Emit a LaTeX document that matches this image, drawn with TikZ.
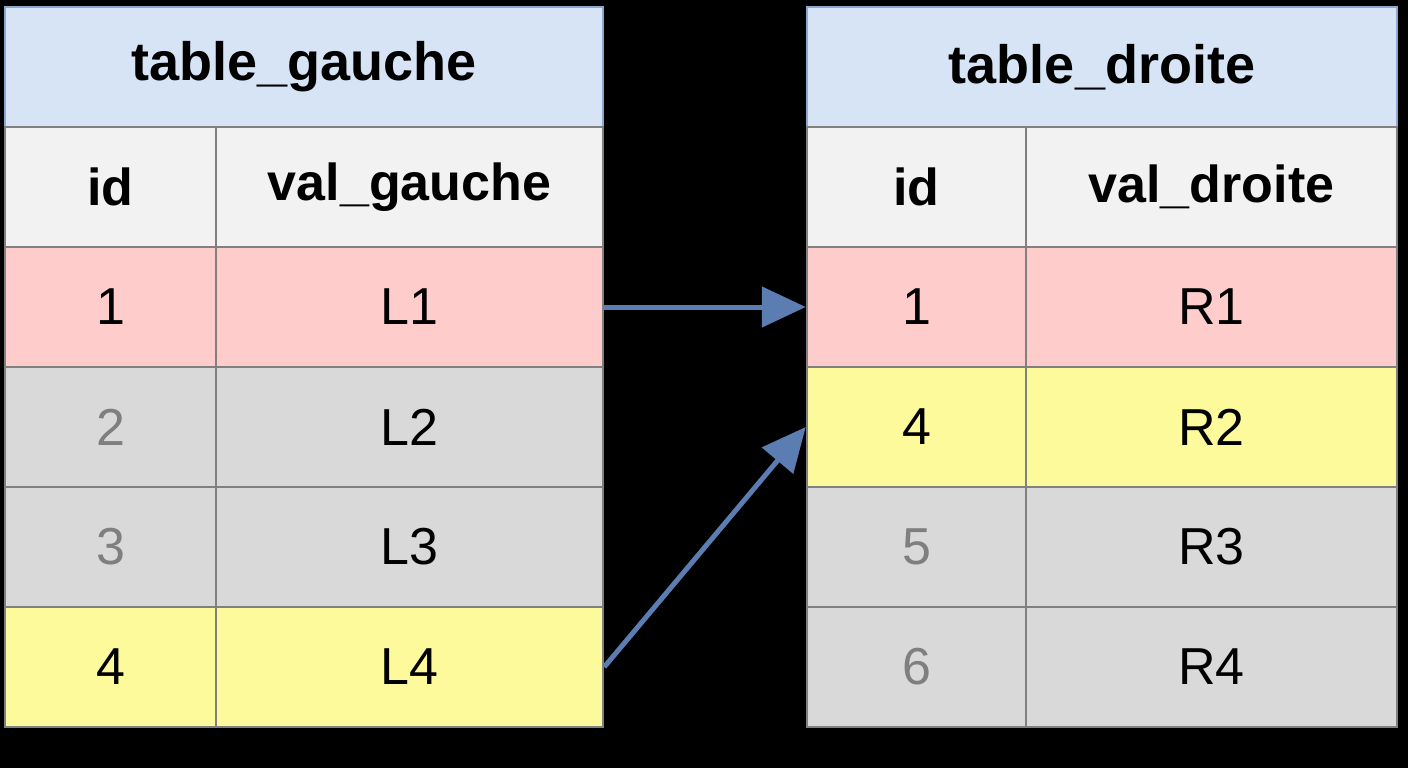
\documentclass[tikz,border=0pt]{standalone}
\usepackage{fontspec}
\setmainfont{Liberation Sans}
\usetikzlibrary{arrows.meta}
\definecolor{hdr}{HTML}{D6E4F5}
\definecolor{hdrb}{HTML}{8CA8CC}
\definecolor{colh}{HTML}{F2F2F2}
\definecolor{rr}{HTML}{FFCCCC}
\definecolor{gg}{HTML}{D9D9D9}
\definecolor{yy}{HTML}{FDFA9B}
\definecolor{bord}{HTML}{808080}
\definecolor{arr}{HTML}{5B7DB1}
\definecolor{gtxt}{HTML}{7F7F7F}
\tikzset{
 cell/.style={draw=bord,line width=2.5pt,inner sep=0pt,minimum height=120pt,font=\fontsize{52}{60}\selectfont},
 title/.style={cell,fill=hdr,draw=hdrb,font=\fontsize{54}{60}\selectfont\bfseries},
 ch/.style={cell,fill=colh,font=\fontsize{52}{60}\selectfont\bfseries},
 conn/.style={draw=arr,line width=5pt,-{Triangle[length=44pt,width=40pt]}}
}
\begin{document}
\begin{tikzpicture}[x=1pt,y=-1pt]
\fill[black] (0,0) rectangle (1408,768);
\useasboundingbox (0,0) rectangle (1408,768);
% left
\node[title,minimum width=598pt] (lt) at (304,67) {table\_gauche};
\node[ch,minimum width=211pt] (lh1) at (110.5,187) {id};
\node[ch,minimum width=387pt] (lh2) at (409.5,187) {val\_gauche};
\node[cell,fill=rr,minimum width=211pt] (l1a) at (110.5,307) {1};
\node[cell,fill=rr,minimum width=387pt] (l1b) at (409.5,307) {L1};
\node[cell,fill=gg,minimum width=211pt,text=gtxt] (l2a) at (110.5,427) {2};
\node[cell,fill=gg,minimum width=387pt] (l2b) at (409.5,427) {L2};
\node[cell,fill=gg,minimum width=211pt,text=gtxt] (l3a) at (110.5,547) {3};
\node[cell,fill=gg,minimum width=387pt] (l3b) at (409.5,547) {L3};
\node[cell,fill=yy,minimum width=211pt] (l4a) at (110.5,667) {4};
\node[cell,fill=yy,minimum width=387pt] (l4b) at (409.5,667) {L4};
% right
\node[title,minimum width=590pt] (rt) at (1102,67) {table\_droite};
\node[ch,minimum width=219pt] (rh1) at (916.5,187) {id};
\node[ch,minimum width=371pt] (rh2) at (1211.5,187) {val\_droite};
\node[cell,fill=rr,minimum width=219pt] (r1a) at (916.5,307) {1};
\node[cell,fill=rr,minimum width=371pt] (r1b) at (1211.5,307) {R1};
\node[cell,fill=yy,minimum width=219pt] (r2a) at (916.5,427) {4};
\node[cell,fill=yy,minimum width=371pt] (r2b) at (1211.5,427) {R2};
\node[cell,fill=gg,minimum width=219pt,text=gtxt] (r3a) at (916.5,547) {5};
\node[cell,fill=gg,minimum width=371pt] (r3b) at (1211.5,547) {R3};
\node[cell,fill=gg,minimum width=219pt,text=gtxt] (r4a) at (916.5,667) {6};
\node[cell,fill=gg,minimum width=371pt] (r4b) at (1211.5,667) {R4};
\draw[conn] (l1b.east) -- (r1a.west);
\draw[conn] (l4b.east) -- (r2a.west);
\end{tikzpicture}
\end{document}
